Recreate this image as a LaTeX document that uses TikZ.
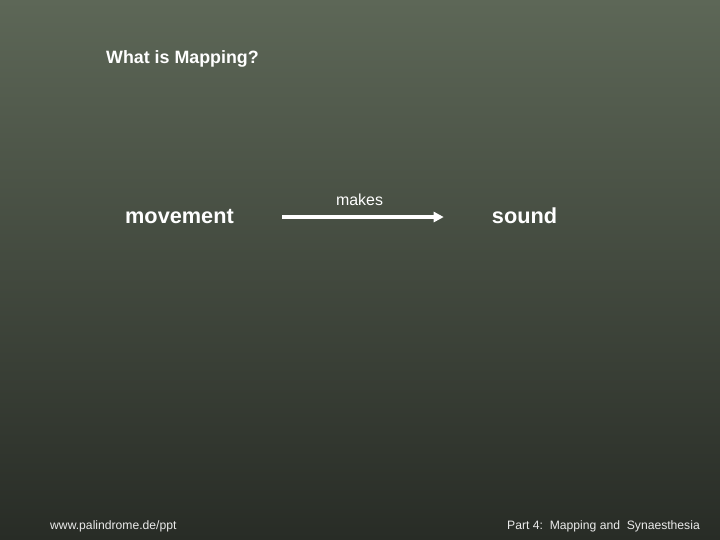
\documentclass[tikz,border=0pt]{standalone}
\usepackage{fontspec}
\setmainfont{Liberation Sans}
\usetikzlibrary{positioning,arrows.meta}
\definecolor{slidetop}{RGB}{93,103,87}
\definecolor{slidebottom}{RGB}{40,44,38}

\begin{document}
\begin{tikzpicture}[x=1bp, y=-1bp,
    slide text/.style={text=white, inner sep=0pt, anchor=base},
    big word/.style={slide text, font=\bfseries\fontsize{21.8}{26}\selectfont},
    footer/.style={text=white!92!black, inner sep=0pt, anchor=base, font=\fontsize{12.2}{14}\selectfont},
    map arrow/.style={draw=white, line width=4bp, -{Triangle[length=10bp,width=10bp]}, shorten <=48bp, shorten >=48bp}]
    \shade[top color=slidetop, bottom color=slidebottom] (0,0) rectangle (720,540);
    \useasboundingbox (0,0) rectangle (720,540);

    \node[slide text, anchor=base west, font=\bfseries\fontsize{17.9}{21}\selectfont] (title) at (106,64) {What is Mapping?};

    \node[big word] (movement) at (179.5,224) {movement};
    \node[big word] (sound) at (524.5,224) {sound};
    \node[slide text, font=\fontsize{16}{19}\selectfont] (makes) at (359.5,206) {makes};

    % keep the shaft level
    \draw[map arrow] (movement.east) -- (movement.east -| sound.west);

    \node[footer, anchor=base west] (site) at (50,529) {www.palindrome.de/ppt};
    \node[footer, anchor=base east] (part) at (700,529) {Part 4:\ \ Mapping and\ \ Synaesthesia};

\end{tikzpicture}
\end{document}
